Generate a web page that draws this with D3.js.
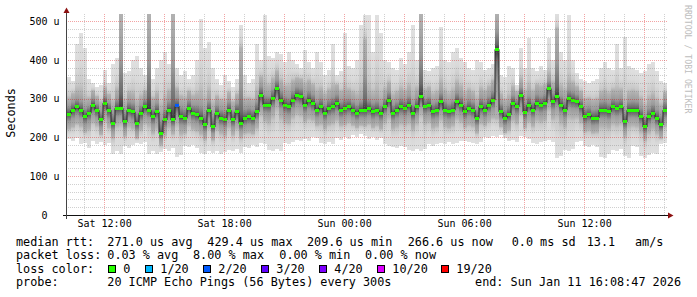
<!DOCTYPE html>
<html>
<head>
<meta charset="utf-8">
<script src="https://cdn.jsdelivr.net/npm/d3@7"></script>
<style>
  body { margin: 0; background: #fff; }
  svg { display: block; font-family: "DejaVu Sans Mono", monospace; }
  text { white-space: pre; }
</style>
</head>
<body>
<div id="chart"></div>
<script>
// one column every 12 minutes, values in microseconds
var medianRtt = [
  260,270,279,270,253,262,283,270,245,288,270,236,275,275,240,270,266,236,262,279,
  270,253,266,210,245,270,245,281,253,249,275,262,258,249,232,270,227,262,
  249,245,270,245,266,236,249,253,249,266,309,283,283,300,326,296,283,279,296,309,
  305,283,296,288,270,279,262,275,279,288,270,275,279,270,262,270,270,
  275,266,270,262,279,296,262,270,279,275,283,262,279,305,279,283,266,270,292,270,
  266,270,292,283,266,275,270,249,279,270,283,296,427,266,249,258,288,279,
  309,265,283,270,288,283,288,326,292,305,283,270,300,296,292,279,253,258,249,250,
  270,270,266,279,275,279,240,270,270,270,253,227,253,262,249,232,270
];
var pingLow = [
  195,190,198,184,186,172,190,182,188,180,186,158,164,156,178,172,180,186,182,188,
  158,164,156,162,170,166,172,150,154,178,174,180,172,160,156,164,160,166,
  158,162,168,164,170,160,176,172,180,174,186,182,168,164,170,166,186,182,188,194,
  190,196,192,200,198,186,182,188,184,198,194,200,196,206,202,208,204,
  196,200,194,198,182,178,176,172,178,174,168,164,170,166,170,182,178,184,186,182,
  188,184,186,190,192,188,186,182,188,202,198,204,200,206,198,190,194,188,
  204,200,196,186,184,188,190,194,188,146,152,168,164,170,188,192,178,174,180,176,
  150,146,156,168,164,170,152,148,178,174,152,148,154,160,158,184,186
];
var pingQ1 = [
  222,228,236,230,214,222,240,232,208,244,226,200,232,236,204,230,224,198,220,238,
  232,212,226,180,206,228,210,236,210,212,234,222,218,210,196,226,194,222,
  212,206,228,208,224,200,212,214,210,226,262,244,240,256,278,252,240,238,254,264,
  260,242,250,246,232,236,224,234,238,246,232,234,240,232,226,232,230,
  236,226,232,222,240,252,224,230,238,234,240,222,238,262,238,242,226,230,248,230,
  226,232,250,242,228,234,230,212,238,232,242,252,250,228,212,220,246,238,
  262,226,242,230,246,242,246,276,250,258,240,230,254,252,254,240,216,220,212,214,
  230,230,226,238,234,238,204,230,232,230,216,194,214,224,212,198,230
];
var pingQ3 = [
  300,312,318,316,298,300,320,305,290,326,310,288,322,520,292,315,312,290,305,318,
  520,300,312,280,300,318,520,325,305,300,318,306,310,312,295,318,285,305,
  296,292,315,290,310,430,298,300,296,318,355,335,332,350,370,345,330,330,345,352,
  350,335,345,335,318,325,310,322,330,335,318,325,322,315,308,318,450,
  320,312,318,305,322,340,308,315,325,318,330,310,325,520,322,328,310,315,340,318,
  310,318,340,330,312,322,315,298,325,318,330,345,520,310,295,305,330,318,
  350,318,330,318,335,330,335,365,340,480,330,320,345,340,330,318,298,300,295,298,
  315,318,312,322,320,322,290,315,318,315,300,280,300,308,295,282,315
];
var pingHigh = [
  355,345,440,470,430,350,340,330,335,375,340,390,405,520,365,370,400,410,380,360,
  520,350,380,400,420,390,520,380,360,370,350,360,400,505,430,445,380,350,
  335,360,345,330,350,490,360,340,350,440,400,515,410,405,420,415,395,420,400,390,
  380,425,395,380,420,395,360,375,440,360,370,470,385,380,400,490,515,
  515,420,515,470,400,395,380,375,405,390,420,490,400,520,375,370,380,385,485,400,
  395,420,430,405,395,380,375,400,395,375,380,390,520,360,355,385,380,335,
  430,380,455,380,370,385,375,455,400,520,420,400,515,400,365,350,345,340,345,350,
  380,395,380,375,440,380,460,385,380,375,365,370,390,395,370,345,340
];
// columns that lost packets, and how many of 20
var lossColumns = [27];
var lossLevels = [2];

var yTicks = [0, 100, 200, 300, 400, 500];
var lossSteps = [0, 1, 2, 3, 4, 10, 19];
var lossLabels = ['0', '1/20', '2/20', '3/20', '4/20', '10/20', '19/20'];
var lossColours = ['#26ff00', '#00b8ff', '#0059ff', '#5e00ff', '#7e00ff', '#dd00ff', '#ff0000'];
var rttStats = ['271.0 us avg', '429.4 us max', '209.6 us min', '266.6 us now', '0.0 ms sd', '13.1', 'am/s'];
var lossStats = ['0.03 % avg', '8.00 % max', '0.00 % min', '0.00 % now'];
var probeText = '20 ICMP Echo Pings (56 Bytes) every 300s';
var endText = 'end: Sun Jan 11 16:08:47 2026';

var width = 697, height = 297;
var plotLeft = 67, plotRight = 667, plotTop = 15, plotBottom = 215;
var start = new Date(2026, 0, 10, 10, 8, 47);
var end = new Date(2026, 0, 11, 16, 8, 47);
var stepMs = 12 * 60 * 1000;

var x = d3.scaleTime().domain([start, end]).range([plotLeft, plotRight]);
var y = d3.scaleLinear().domain([0, 515.5]).range([plotBottom, plotTop]);

function lossColour(l) {
  var c = lossColours[0];
  lossSteps.forEach(function(s, k) { if (l >= s) c = lossColours[k]; });
  return c;
}

var cols = medianRtt.map(function(m, i) {
  return { t: new Date(+start + i * stepMs), med: m, lo: pingLow[i], q1: pingQ1[i],
           q3: pingQ3[i], hi: pingHigh[i], loss: 0 };
});
lossColumns.forEach(function(c, k) { cols[c].loss = lossLevels[k]; });

function colWidth(d) { return x(new Date(+d.t + stepMs)) - x(d.t); }

var svg = d3.select('#chart').append('svg')
  .attr('width', width).attr('height', height);
svg.append('rect').attr('width', width).attr('height', height).attr('fill', '#fff');

var defs = svg.append('defs');
defs.append('clipPath').attr('id', 'plot')
  .append('rect').attr('x', plotLeft).attr('y', plotTop - 1)
  .attr('width', plotRight - plotLeft).attr('height', plotBottom - plotTop + 1);

// smoke shading, lighter away from the median
var grads = {
  upOuter: [[0, '#e0e0e0'], [0.5, '#d9d9d9'], [0.85, '#c8c8c8'], [1, '#b2b2b2']],
  upInner: [[0, '#b2b2b2'], [0.5, '#9a9a9a'], [0.85, '#6a6a6a'], [1, '#383838']],
  dnInner: [[0, '#383838'], [0.15, '#6a6a6a'], [0.5, '#9a9a9a'], [1, '#b2b2b2']],
  dnOuter: [[0, '#b2b2b2'], [0.15, '#c8c8c8'], [0.5, '#d9d9d9'], [1, '#e0e0e0']]
};
Object.keys(grads).forEach(function(id) {
  var g = defs.append('linearGradient').attr('id', id)
    .attr('x1', 0).attr('y1', 0).attr('x2', 0).attr('y2', 1);
  grads[id].forEach(function(s) {
    g.append('stop').attr('offset', s[0]).attr('stop-color', s[1]);
  });
});

// dotted grid patterns, one pixel on, one off
function dots(id, colour, horiz) {
  var p = defs.append('pattern').attr('id', id)
    .attr('patternUnits', 'userSpaceOnUse')
    .attr('width', horiz ? 2 : 1).attr('height', horiz ? 1 : 2);
  p.append('rect').attr('width', 1).attr('height', 1).attr('fill', colour);
}
var minorColour = 'rgba(110,110,110,0.32)';
var majorColour = 'rgba(220,0,0,0.36)';
dots('minorH', minorColour, true);
dots('minorV', minorColour, false);
dots('majorH', majorColour, true);
dots('majorV', majorColour, false);

var bands = [
  { hiKey: 'hi', loKey: 'q3', fill: 'upOuter' },
  { hiKey: 'q3', loKey: 'med', fill: 'upInner' },
  { hiKey: 'med', loKey: 'q1', fill: 'dnInner' },
  { hiKey: 'q1', loKey: 'lo', fill: 'dnOuter' }
];

var plot = svg.append('g').attr('clip-path', 'url(#plot)');

bands.forEach(function(b) {
  plot.append('g').attr('shape-rendering', 'crispEdges')
    .selectAll('rect')
    .data(cols.filter(function(d) { return d[b.hiKey] > d[b.loKey]; }))
    .enter().append('rect')
    .attr('x', function(d) { return x(d.t); })
    .attr('width', colWidth)
    .attr('y', function(d) { return y(d[b.hiKey]); })
    .attr('height', function(d) { return y(d[b.loKey]) - y(d[b.hiKey]); })
    .attr('fill', 'url(#' + b.fill + ')');
});

// dark risers between the median steps
plot.append('path')
  .datum(cols)
  .attr('fill', 'none')
  .attr('stroke', '#262626')
  .attr('stroke-width', 1)
  .attr('d', d3.line()
    .x(function(d) { return x(d.t); })
    .y(function(d) { return y(d.med); })
    .curve(d3.curveStepAfter));

plot.append('g').attr('shape-rendering', 'crispEdges')
  .selectAll('rect')
  .data(cols)
  .enter().append('rect')
  .attr('x', function(d) { return x(d.t); })
  .attr('width', colWidth)
  .attr('y', function(d) { return y(d.med) - 1.5; })
  .attr('height', 3)
  .attr('fill', function(d) { return lossColour(d.loss); });

// grid, drawn over the smoke like rrdtool does
var grid = svg.append('g').attr('shape-rendering', 'crispEdges');
var minorY = d3.range(20, 515, 20).filter(function(v) { return v % 100 !== 0; });
var majorY = yTicks.filter(function(v) { return v > 0; });
var minorX = d3.timeHour.range(start, end).filter(function(t) { return t.getHours() % 3 !== 0; });
var majorX = d3.timeHour.every(3).range(start, end);

function hLines(vals, pat) {
  grid.selectAll(null).data(vals).enter().append('rect')
    .attr('x', plotLeft).attr('width', plotRight - plotLeft + 1)
    .attr('y', function(v) { return Math.round(y(v)); })
    .attr('height', 1)
    .attr('fill', 'url(#' + pat + ')');
}
function vLines(vals, pat) {
  grid.selectAll(null).data(vals).enter().append('rect')
    .attr('y', plotTop - 1).attr('height', plotBottom - plotTop + 1)
    .attr('x', function(t) { return Math.round(x(t)); })
    .attr('width', 1)
    .attr('fill', 'url(#' + pat + ')');
}
hLines(minorY, 'minorH');
vLines(minorX, 'minorV');
hLines(majorY, 'majorH');
vLines(majorX, 'majorV');

// axes
svg.append('line').attr('x1', 63).attr('x2', 670)
  .attr('y1', plotBottom + 0.5).attr('y2', plotBottom + 0.5)
  .attr('stroke', '#111');
svg.append('line').attr('x1', plotLeft - 0.5).attr('x2', plotLeft - 0.5)
  .attr('y1', 219).attr('y2', 12)
  .attr('stroke', '#444');
svg.append('path').attr('d', 'M668,212.5L673.5,215.5L668,218.5Z').attr('fill', '#8c1010');
svg.append('path').attr('d', 'M63.5,13L66.5,7.5L69.5,13Z').attr('fill', '#8c1010');

var yAxis = svg.append('g')
  .attr('transform', 'translate(' + plotLeft + ',0)')
  .call(d3.axisLeft(y).tickValues(yTicks).tickSize(0).tickPadding(7.5)
    .tickFormat(function(d) { return d === 0 ? '0  ' : d + ' u'; }));
yAxis.select('.domain').remove();
yAxis.selectAll('text').attr('font-family', 'DejaVu Sans Mono').attr('font-size', '10px').attr('fill', '#000');

var xAxis = svg.append('g')
  .attr('transform', 'translate(0,' + plotBottom + ')')
  .call(d3.axisBottom(x).ticks(d3.timeHour.every(6)).tickSize(0).tickPadding(5)
    .tickFormat(d3.timeFormat('%a %H:%M')));
xAxis.select('.domain').remove();
xAxis.selectAll('text').attr('font-family', 'DejaVu Sans Mono').attr('font-size', '10px').attr('fill', '#000');

svg.append('text')
  .attr('transform', 'translate(15,113) rotate(-90)')
  .attr('text-anchor', 'middle')
  .attr('font-size', '11.8px')
  .text('Seconds');

svg.append('text')
  .attr('transform', 'translate(685,5) rotate(90)')
  .attr('font-size', '8.2px')
  .attr('fill', '#bdbdbd')
  .text('RRDTOOL / TOBI OETIKER');

// legend
var legend = svg.append('g').attr('font-size', '11.8px').attr('fill', '#000');
var rowY = [245.5, 259, 272.7, 286.3];

function put(tx, px, py) {
  legend.append('text').attr('x', px).attr('y', py).text(tx);
}
put('median rtt:', 16, rowY[0]);
[107.3, 207.3, 307, 407.7, 511.7, 586.7, 635].forEach(function(px, k) {
  put(rttStats[k], px, rowY[0]);
});
put('packet loss:', 16, rowY[1]);
[107.3, 193, 279.3, 365].forEach(function(px, k) {
  put(lossStats[k], px, rowY[1]);
});
put('loss color:', 16, rowY[2]);
var boxX = [108.5, 145.5, 203.5, 261.5, 319.5, 377.5, 441.5];
lossLabels.forEach(function(l, k) {
  legend.append('rect')
    .attr('x', boxX[k]).attr('y', 265.5).attr('width', 7).attr('height', 7)
    .attr('fill', lossColours[k]).attr('stroke', '#000').attr('stroke-width', 1);
  put(l, boxX[k] + 14.8, rowY[2]);
});
put('probe:', 16, rowY[3]);
put(probeText, 107.3, rowY[3]);
legend.append('text').attr('x', 681).attr('y', rowY[3]).attr('text-anchor', 'end').text(endText);
</script>
</body>
</html>
